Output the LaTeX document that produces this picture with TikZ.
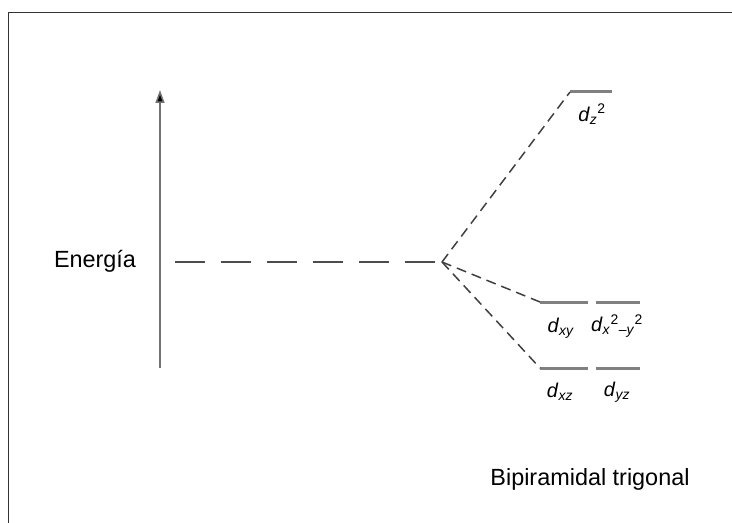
\documentclass[tikz,border=0pt]{standalone}
\usepackage{fontspec}
\setmainfont{Liberation Sans}
\usetikzlibrary{arrows.meta}

\newcommand{\orbd}[1]{\textit{d}\textsubscript{\textit{#1}}}

\begin{document}
\begin{tikzpicture}[
  x=1bp, y=-1bp,
  label/.style={font=\fontsize{23.5}{27}\selectfont, inner sep=0pt},
  orb/.style={font=\fontsize{20}{23}\selectfont, inner sep=0pt},
  level/.style={draw=black!50, line width=3bp},
  split/.style={draw=black!75, line width=1.5bp, dash pattern=on 10bp off 6bp},
  deg/.style={draw=black!70, line width=1.5bp, dash pattern=on 30bp off 16bp}
]
\useasboundingbox (0,0) rectangle (732,523);
% frame
\draw[black!80, line width=1.5bp] (732,12.5) -- (8.5,12.5) -- (8.5,523);

% energy axis
\coordinate (axbot) at (160,368);
\coordinate (axtop) at (160,90);
\draw[black!55, line width=1.5bp, -{Triangle[width=9bp,length=13bp,fill=black]}] (axbot) -- (axtop);
\node[label] (energia) at (95,261) {Energía};

% degenerate level and split point
\coordinate (deg0) at (175,262);
\coordinate (centre) at (442,262);
\draw[deg] (deg0) -- (centre);

% levels
\coordinate (z2a) at (570,92);   \coordinate (z2b) at (612,92);
\coordinate (xya) at (540,302);  \coordinate (xyb) at (588,302);
\coordinate (x2a) at (596,302);  \coordinate (x2b) at (640,302);
\coordinate (xza) at (540,368);  \coordinate (xzb) at (588,368);
\coordinate (yza) at (596,368);  \coordinate (yzb) at (640,368);
\draw[level] (z2a) -- (z2b);
\draw[level] (xya) -- (xyb);
\draw[level] (x2a) -- (x2b);
\draw[level] (xza) -- (xzb);
\draw[level] (yza) -- (yzb);

\draw[split] (centre) -- (z2a);
\draw[split] (centre) -- (xya);
\draw[split] (centre) -- (xza);

% orbital labels
\node[orb] (dz2) at (592,114) {\textit{d}\textsubscript{\textit{z}}\textsuperscript{2}};
\node[orb] (dxy) at (561,328) {\orbd{xy}};
\node[orb] (dx2y2) at (617,326) {\textit{d}\textsubscript{\textit{x}}\textsuperscript{2}\textsubscript{–\textit{y}}\textsuperscript{2}};
\node[orb] (dxz) at (560,392) {\orbd{xz}};
\node[orb] (dyz) at (617,392) {\orbd{yz}};

\node[label] (geom) at (590,479) {Bipiramidal trigonal};
\end{tikzpicture}
\end{document}
